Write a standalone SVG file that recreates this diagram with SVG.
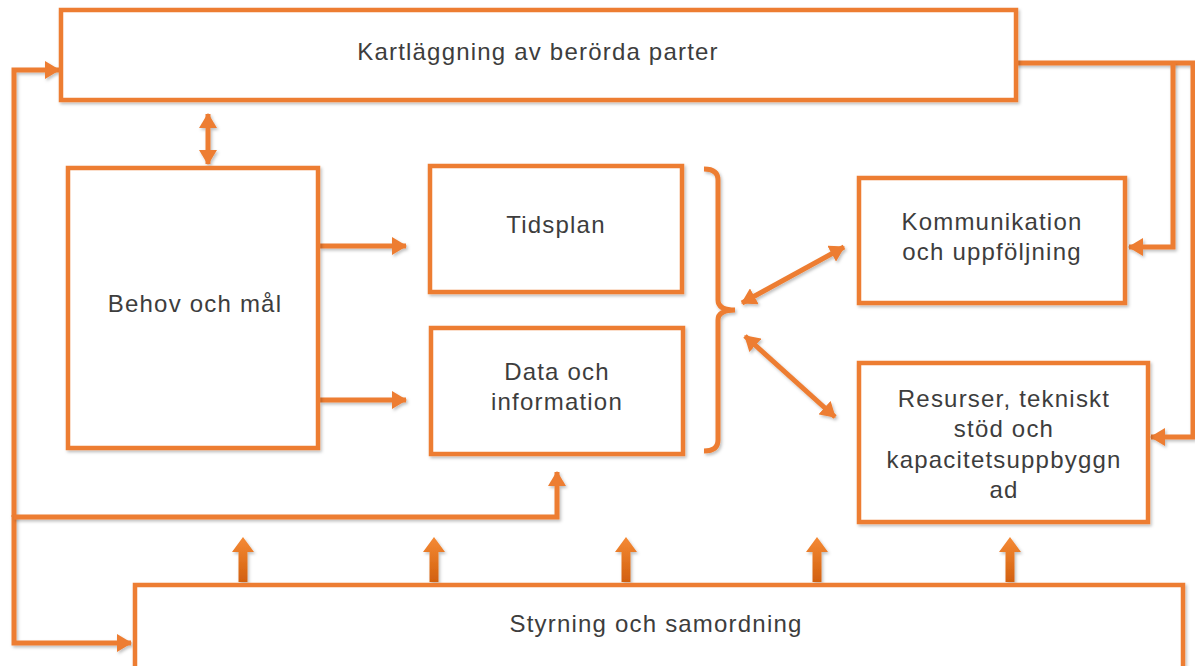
<svg xmlns="http://www.w3.org/2000/svg" width="1195" height="666" viewBox="0 0 1195 666">
<defs>
<style>
.box{fill:#fff;stroke:#ED7D31;stroke-width:4.5;filter:url(#sh)}
.lbl{font-family:"Liberation Sans",Arial,sans-serif;font-size:24px;letter-spacing:1.2px;fill:#3D3D3D;text-anchor:middle}
.con{fill:none;stroke:#ED7D31;stroke-width:5;stroke-linejoin:miter;filter:url(#sh)}
.up{fill:url(#ug);filter:url(#sh)}
</style>
<filter id="sh" filterUnits="userSpaceOnUse" x="0" y="0" width="1195" height="666">
<feDropShadow dx="1.5" dy="2" stdDeviation="1.5" flood-color="#000" flood-opacity="0.25"/>
</filter>
<linearGradient id="ug" x1="0" y1="0" x2="0" y2="1">
<stop offset="0" stop-color="#F58A35"/>
<stop offset="1" stop-color="#D2600F"/>
</linearGradient>
<marker id="ah" markerUnits="userSpaceOnUse" markerWidth="17" markerHeight="18" refX="14" refY="9" orient="auto-start-reverse">
<path d="M0,0 L15,9 L0,18 Z" fill="#ED7D31"/>
</marker>
</defs>

<g id="connectors">
<path class="con" d="M14,517 V70 H59" marker-end="url(#ah)"/>
<path class="con" d="M14,515 V643 H131" marker-end="url(#ah)"/>
<path class="con" d="M14,517 H557 V472" marker-end="url(#ah)"/>
<path class="con" d="M1016,63 H1195"/>
<path class="con" d="M1173,63 V247 H1129" marker-end="url(#ah)"/>
<path class="con" d="M1193,63 V437 H1151" marker-end="url(#ah)"/>
<path class="con" d="M208,114 V164" marker-start="url(#ah)" marker-end="url(#ah)"/>
<path class="con" d="M320,246 H406" marker-end="url(#ah)"/>
<path class="con" d="M320,400 H406" marker-end="url(#ah)"/>
<path class="con" d="M704,169 Q718,169 718,180 V300 Q718,310 735,310 Q718,310 718,320 V440 Q718,451 704,451"/>
<path class="con" d="M742,303 L844,247" marker-start="url(#ah)" marker-end="url(#ah)"/>
<path class="con" d="M745,336 L835,417" marker-start="url(#ah)" marker-end="url(#ah)"/>
<path class="up" d="M238.5,582 V552 H232 L243,537 L254,552 H247.5 V582 Z"/>
<path class="up" d="M429.5,582 V552 H423 L434,537 L445,552 H438.5 V582 Z"/>
<path class="up" d="M621.5,582 V552 H615 L626,537 L637,552 H630.5 V582 Z"/>
<path class="up" d="M812.5,582 V552 H806 L817,537 L828,552 H821.5 V582 Z"/>
<path class="up" d="M1005.5,582 V552 H999 L1010,537 L1021,552 H1014.5 V582 Z"/>
</g>

<g id="kartlaggning">
<rect class="box" x="61" y="10" width="955" height="90"/>
<text class="lbl" x="538" y="60">Kartläggning av berörda parter</text>
</g>
<g id="behov">
<rect class="box" x="68" y="168" width="250" height="280"/>
<text class="lbl" x="195" y="312">Behov och mål</text>
</g>
<g id="tidsplan">
<rect class="box" x="430" y="166" width="252" height="126"/>
<text class="lbl" x="556" y="233">Tidsplan</text>
</g>
<g id="data">
<rect class="box" x="431" y="328" width="252" height="126"/>
<text class="lbl" x="557" y="380">Data och</text>
<text class="lbl" x="557" y="410">information</text>
</g>
<g id="kommunikation">
<rect class="box" x="859" y="178" width="266" height="125"/>
<text class="lbl" x="992" y="230">Kommunikation</text>
<text class="lbl" x="992" y="260">och uppföljning</text>
</g>
<g id="resurser">
<rect class="box" x="859" y="363" width="289" height="159"/>
<text class="lbl" x="1004" y="407">Resurser, tekniskt</text>
<text class="lbl" x="1004" y="437">stöd och</text>
<text class="lbl" x="1004" y="468">kapacitetsuppbyggn</text>
<text class="lbl" x="1004" y="498">ad</text>
</g>
<g id="styrning">
<rect class="box" x="135" y="585" width="1048" height="90"/>
<text class="lbl" x="656" y="632">Styrning och samordning</text>
</g>
</svg>
